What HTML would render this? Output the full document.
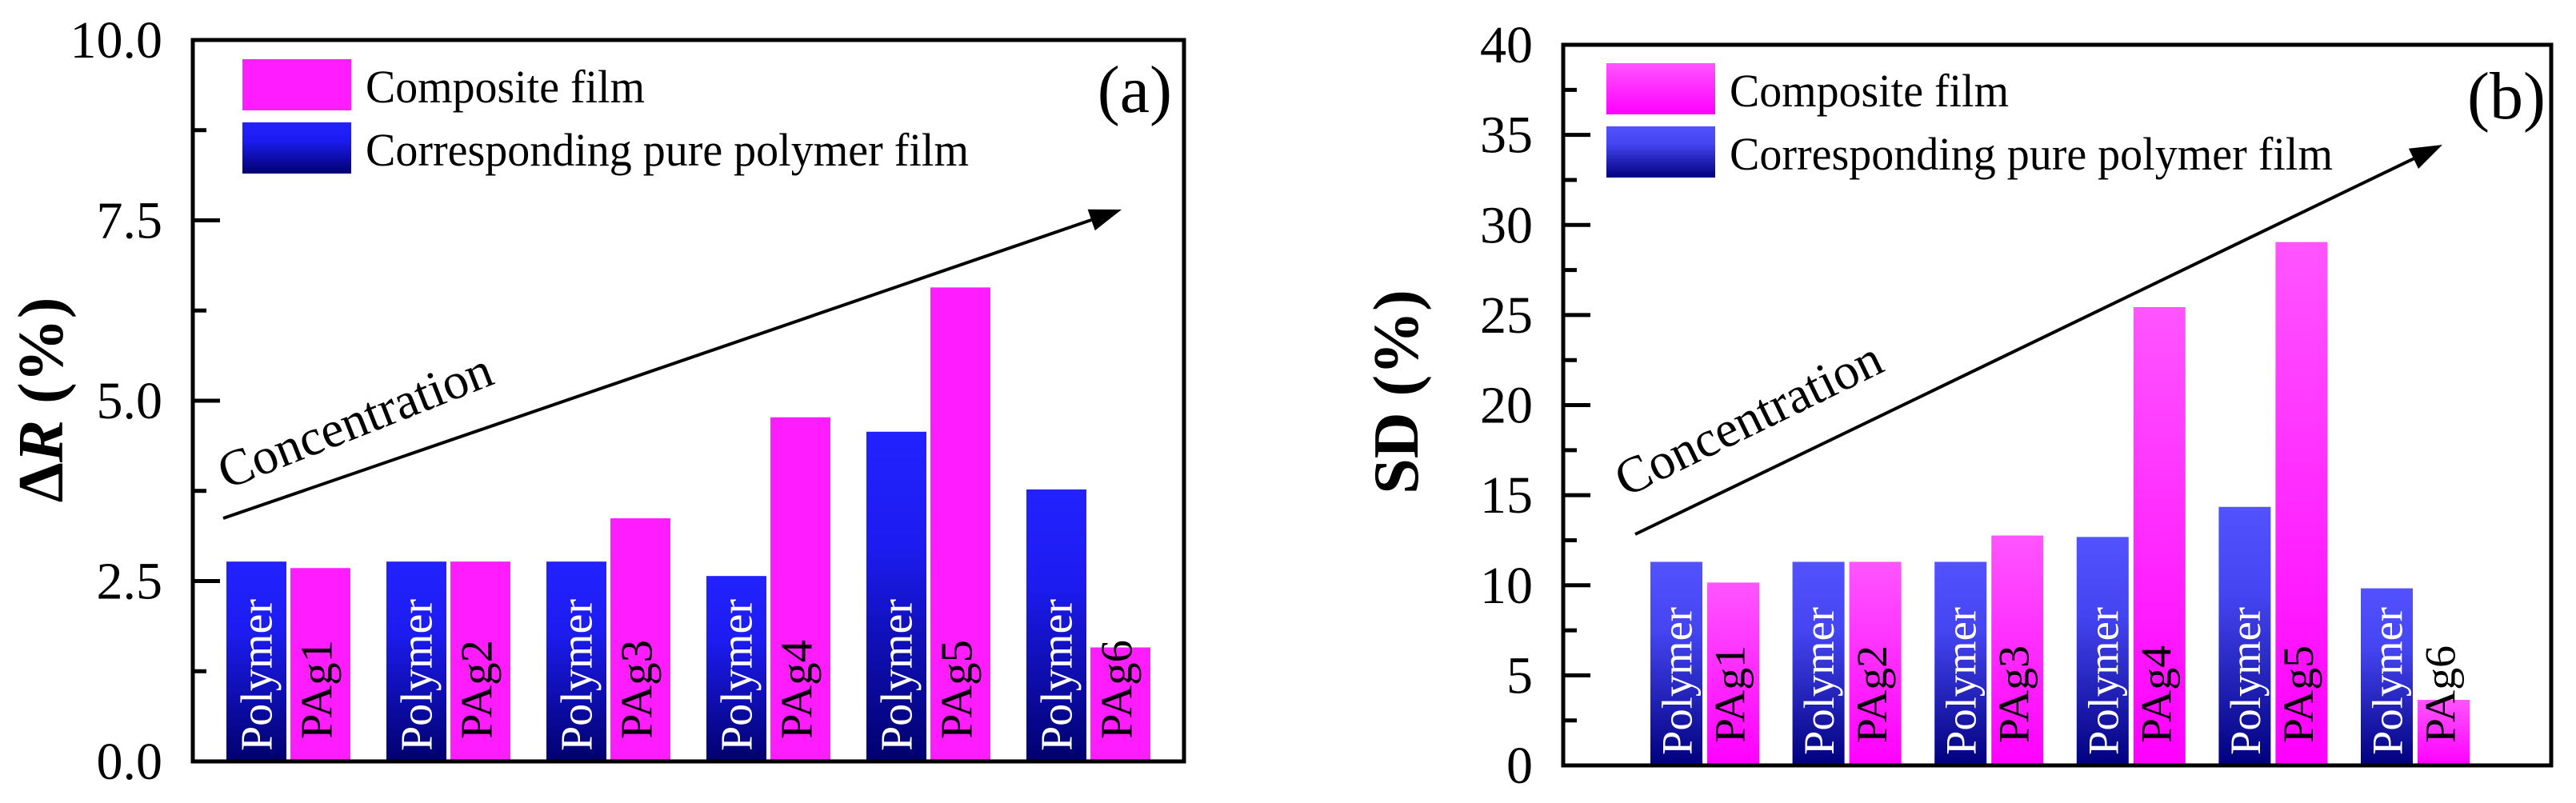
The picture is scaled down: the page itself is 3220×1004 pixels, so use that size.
<!DOCTYPE html>
<html><head><meta charset="utf-8"><style>
html,body{margin:0;padding:0;background:#fff}
svg{display:block}
text{font-family:"Liberation Serif",serif}
</style></head><body>
<svg id="fig" width="3220" height="1004" viewBox="0 0 3220 1004" xmlns="http://www.w3.org/2000/svg">
<defs>
<linearGradient id="gPolyA" x1="0" y1="0" x2="0" y2="1"><stop offset="0" stop-color="#2222ff"/><stop offset="0.35" stop-color="#1c1cf0"/><stop offset="1" stop-color="#00006e"/></linearGradient>
<linearGradient id="gPolyB" x1="0" y1="0" x2="0" y2="1"><stop offset="0" stop-color="#5252ff"/><stop offset="0.35" stop-color="#4444f0"/><stop offset="1" stop-color="#00007e"/></linearGradient>
<linearGradient id="gCompB" x1="0" y1="0" x2="0" y2="1"><stop offset="0" stop-color="#ff55ff"/><stop offset="1" stop-color="#ff00ff"/></linearGradient>
</defs>
</svg>
<script>
// Panel (a)
const catsA = ["PAg1","PAg2","PAg3","PAg4","PAg5","PAg6"];
const polyA = [2.77,2.77,2.77,2.57,4.57,3.77];
const compA = [2.68,2.77,3.37,4.77,6.57,1.58];
const ticksA = ["0.0","2.5","5.0","7.5","10.0"];
// Panel (b)
const catsB = ["PAg1","PAg2","PAg3","PAg4","PAg5","PAg6"];
const polyB = [11.3,11.3,11.3,12.68,14.35,9.83];
const compB = [10.15,11.3,12.76,25.44,29.05,3.64];
const ticksB = ["0","5","10","15","20","25","30","35","40"];

const NS="http://www.w3.org/2000/svg";
const svg=document.getElementById('fig');
function mk(tag,attrs,parent,txt){const e=document.createElementNS(NS,tag);for(const k in attrs)e.setAttribute(k,attrs[k]);if(txt!==undefined)e.textContent=txt;(parent||svg).appendChild(e);return e;}

function panel(o){
  const g=mk('g',{});
  
  
  const y=v=>o.bottom-(v-o.vmin)/(o.vmax-o.vmin)*(o.bottom-o.top);
  o.cats.forEach((c,i)=>{
    const x0=o.x0+i*o.pitch;
    const pb=mk('rect',{x:x0,y:y(o.poly[i]),width:o.bw,height:o.bottom-y(o.poly[i]),fill:o.polyFill},g);
    
    
    const cx=x0+o.bw+o.gap;
    const cb=mk('rect',{x:cx,y:y(o.comp[i]),width:o.bw,height:o.bottom-y(o.comp[i]),fill:o.compFill},g);
    
    
    const tx1=x0+o.bw/2+19, ty1=o.bottom-13;
    const t1=mk('text',{x:tx1,y:ty1,transform:`rotate(-90 ${tx1} ${ty1})`,'font-size':o.lfs,fill:'#fff',textLength:o.polyLen,lengthAdjust:'spacingAndGlyphs'},g,'Polymer');
    
    
    const tx2=cx+o.bw/2+14, ty2=o.bottom-28;
    const t2=mk('text',{x:tx2,y:ty2,transform:`rotate(-90 ${tx2} ${ty2})`,'font-size':o.lfs,fill:'#000',textLength:o.pagLen,lengthAdjust:'spacingAndGlyphs'},g,c);
    
    
  });
  const fr=mk('rect',{x:o.left,y:o.top,width:o.right-o.left,height:o.bottom-o.top,fill:'none',stroke:'#000','stroke-width':5},g);
  
  
  const n=o.ticks.length;
  o.ticks.forEach((t,i)=>{
    const v=o.vmin+i*(o.vmax-o.vmin)/(n-1);
    const yy=y(v);
    if(i>0&&i<n-1){const tk=mk('line',{x1:o.left,x2:o.left+34,y1:yy,y2:yy,stroke:'#000','stroke-width':5},g);
      
      }
    if(i<n-1){const ym=y(v+(o.vmax-o.vmin)/(n-1)/2);
      const mt=mk('line',{x1:o.left,x2:o.left+17,y1:ym,y2:ym,stroke:'#000','stroke-width':5},g);
      
      }
    const tl=mk('text',{x:o.tickX,y:yy+22,'text-anchor':'end','font-size':66},g,t);
    
    
  });
  const yt=mk('text',{x:o.titleX,y:o.titleY,transform:`rotate(-90 ${o.titleX} ${o.titleY})`,'text-anchor':'middle','font-size':80,'font-weight':'bold'},g);
  
  
  if(o.italicR){mk('tspan',{},yt,'Δ');mk('tspan',{'font-style':'italic'},yt,'R');mk('tspan',{},yt,' (%)');}
  else yt.textContent=o.title;
  const lg=mk('g',{},g);
  
  
  const r1=mk('rect',{x:o.legX,y:o.legY,width:136,height:64,fill:o.compFill},lg);
  
  
  const l1=mk('text',{x:o.legX+154,y:o.legY+54,'font-size':58,textLength:349,lengthAdjust:'spacingAndGlyphs'},lg,'Composite film');
  
  
  const r2=mk('rect',{x:o.legX,y:o.legY+79,width:136,height:64,fill:o.polyFill},lg);
  
  
  const l2=mk('text',{x:o.legX+154,y:o.legY+133,'font-size':58,textLength:754,lengthAdjust:'spacingAndGlyphs'},lg,'Corresponding pure polymer film');
  
  
  const pl=mk('text',{x:o.letterX,y:o.letterY,'text-anchor':'end','font-size':84},g,o.letter);
  
  
  const [ax1,ay1,ax2,ay2]=o.arrow;
  const ang=Math.atan2(ay2-ay1,ax2-ax1);
  const hl=40,hw=14;
  const bx=ax2-hl*Math.cos(ang), by=ay2-hl*Math.sin(ang);
  const ln=mk('line',{x1:ax1,y1:ay1,x2:bx,y2:by,stroke:'#000','stroke-width':4},g);
  
  
  const px=-Math.sin(ang),py=Math.cos(ang);
  const hd=mk('polygon',{points:`${ax2},${ay2} ${bx+hw*px},${by+hw*py} ${bx-hw*px},${by-hw*py}`,fill:'#000'},g);
  
  
  const ct=mk('text',{x:o.concX,y:o.concY,transform:`rotate(${o.concAng} ${o.concX} ${o.concY})`,'font-size':64},g,'Concentration');
  
  
}

panel({name:'panel-a',cats:catsA,poly:polyA,comp:compA,ticks:ticksA,vmin:0,vmax:10,
  left:241,right:1480,top:50,bottom:952,x0:283,pitch:200,bw:75,gap:5,lfs:56,polyLen:190,pagLen:124,
  polyFill:'url(#gPolyA)',compFill:'#ff1cff',tickX:203,titleX:78,titleY:500,italicR:true,
  legX:303,legY:74,letter:'(a)',letterX:1465,letterY:140,
  arrow:[279,648,1402,262],concX:283,concY:612,concAng:-21.5});
panel({name:'panel-b',cats:catsB,poly:polyB,comp:compB,ticks:ticksB,vmin:0,vmax:40,
  left:1954,right:3189,top:56,bottom:957,x0:2063,pitch:177.6,bw:65,gap:6,lfs:54,polyLen:185,pagLen:122,
  polyFill:'url(#gPolyB)',compFill:'url(#gCompB)',tickX:1916,titleX:1772,titleY:490,title:'SD (%)',
  legX:2008,legY:79,letter:'(b)',letterX:3182,letterY:148,
  arrow:[2044,668,3053,181],concX:2032,concY:622,concAng:-26});
</script>
</body></html>
